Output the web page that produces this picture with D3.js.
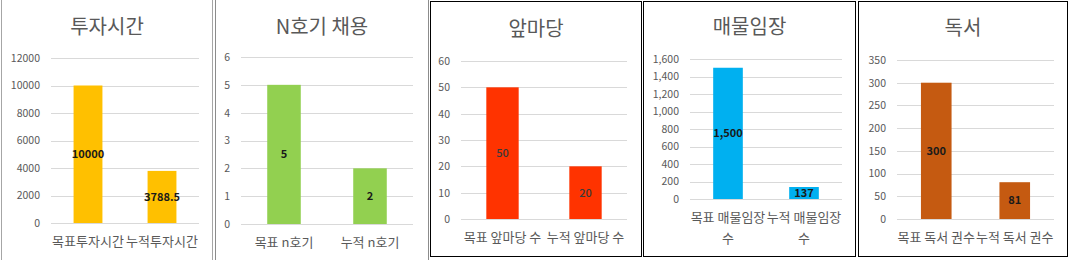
<!DOCTYPE html>
<html><head><meta charset="utf-8">
<script src="https://cdn.jsdelivr.net/npm/d3@7/dist/d3.min.js"></script>
<style>
html,body{margin:0;padding:0;background:#fff;}
svg{display:block;}
text{font-family:"Noto Sans CJK KR","Noto Sans",sans-serif;}
</style></head>
<body>
<svg id="c" width="1070" height="260"></svg>
<script>
// ---- data ----
const titles = ["투자시간", "N호기 채용", "앞마당", "매물임장", "독서"];
const categories1 = ["목표투자시간", "누적투자시간"];
const categories2 = ["목표 n호기", "누적 n호기"];
const categories3 = ["목표 앞마당 수", "누적 앞마당 수"];
const categories4 = ["목표 매물임장 수", "누적 매물임장 수"];
const categories5 = ["목표 독서 권수", "누적 독서 권수"];
const values1 = [10000, 3788.5];
const values2 = [5, 2];
const values3 = [50, 20];
const values4 = [1500, 137];
const values5 = [300, 81];
const ticks1 = [0, 2000, 4000, 6000, 8000, 10000, 12000];
const ticks2 = [0, 1, 2, 3, 4, 5, 6];
const ticks3 = [0, 10, 20, 30, 40, 50, 60];
const ticks4 = [0, 200, 400, 600, 800, 1000, 1200, 1400, 1600];
const ticks5 = [0, 50, 100, 150, 200, 250, 300, 350];

// ---- layout / style ----
const layout = [
  {px0:1, px1:213, border:"#a6a6a6", box:false, x0:51, x1:199, yTop:58, y0:223, color:"#FFC000", fmt:d3.format("d"), lfmt:v=>String(v), lcolor:"#1a1a1a", lweight:700, wrap:false, ty:34},
  {px0:215, px1:429, border:"#8c8c8c", box:false, x0:241, x1:413, yTop:57, y0:224, color:"#92D050", fmt:d3.format("d"), lfmt:v=>String(v), lcolor:"#1a1a1a", lweight:700, wrap:false, ty:34},
  {px0:430, px1:642, border:"#000", box:true, x0:461, x1:627, yTop:61, y0:219, color:"#FF3300", fmt:d3.format("d"), lfmt:v=>String(v), lcolor:"#3a3a3a", lweight:500, wrap:false, ty:36},
  {px0:643, px1:856, border:"#000", box:true, x0:690, x1:842, yTop:59, y0:199, color:"#00B0F0", fmt:d3.format(","), lfmt:d3.format(","), lcolor:"#1a1a1a", lweight:700, wrap:true, ty:34},
  {px0:858, px1:1068, border:"#000", box:true, x0:897, x1:1054, yTop:60, y0:219, color:"#C55A11", fmt:d3.format("d"), lfmt:v=>String(v), lcolor:"#1a1a1a", lweight:700, wrap:false, ty:35}
];
const cats = [categories1, categories2, categories3, categories4, categories5];
const vals = [values1, values2, values3, values4, values5];
const ticks = [ticks1, ticks2, ticks3, ticks4, ticks5];

const svg = d3.select("#c");

layout.forEach((L, i) => {
  const g = svg.append("g");
  // panel frame
  if (L.box) {
    g.append("rect").attr("x", L.px0 + 0.5).attr("y", 1.5)
      .attr("width", L.px1 - L.px0 - 1).attr("height", 255)
      .attr("fill", "#fff").attr("stroke", L.border).attr("stroke-width", 1);
  } else {
    g.append("rect").attr("x", L.px0).attr("y", 0).attr("width", L.px1 - L.px0).attr("height", 260).attr("fill", "#fff");
    g.append("line").attr("x1", L.px0 + 0.5).attr("x2", L.px0 + 0.5).attr("y1", 0).attr("y2", 260).attr("stroke", L.border);
    g.append("line").attr("x1", L.px1 - 0.5).attr("x2", L.px1 - 0.5).attr("y1", 0).attr("y2", 260).attr("stroke", L.border);
  }
  const maxT = d3.max(ticks[i]);
  const y = d3.scaleLinear().domain([0, maxT]).range([L.y0, L.yTop]);
  const x = d3.scaleBand().domain(cats[i]).range([L.x0, L.x1]).paddingInner(0.61).paddingOuter(0.305);

  // gridlines
  const grid = g.append("g").attr("transform", `translate(${L.x0},0)`)
    .call(d3.axisLeft(y).tickValues(ticks[i]).tickSize(-(L.x1 - L.x0)).tickFormat(""));
  grid.select(".domain").remove();
  grid.selectAll(".tick line").attr("stroke", "#d9d9d9").attr("shape-rendering", "crispEdges");

  // y axis labels
  const ax = g.append("g").attr("transform", `translate(${L.x0},0)`)
    .call(d3.axisLeft(y).tickValues(ticks[i]).tickSize(0).tickPadding(11).tickFormat(L.fmt));
  ax.select(".domain").remove();
  ax.selectAll(".tick text").attr("fill", "#595959").attr("font-size", "10.5px")
    .attr("font-family", '"Noto Sans CJK KR","Noto Sans",sans-serif');

  // bars
  g.selectAll("rect.bar").data(vals[i]).enter().append("rect").attr("class", "bar")
    .attr("x", (d, j) => x(cats[i][j])).attr("width", x.bandwidth())
    .attr("y", d => y(d)).attr("height", d => y(0) - y(d))
    .attr("fill", L.color);

  // data labels
  g.selectAll("text.dl").data(vals[i]).enter().append("text").attr("class", "dl")
    .attr("x", (d, j) => x(cats[i][j]) + x.bandwidth() / 2)
    .attr("y", d => y(d / 2)).attr("dy", "0.35em")
    .attr("text-anchor", "middle").attr("font-size", "11px")
    .attr("font-weight", L.lweight).attr("fill", L.lcolor)
    .text(d => L.lfmt(d));

  // category labels
  cats[i].forEach(c => {
    const cx = x(c) + x.bandwidth() / 2;
    const t = g.append("text").attr("x", cx).attr("text-anchor", "middle")
      .attr("font-size", "13px").attr("fill", "#595959");
    if (L.wrap) {
      const k = c.lastIndexOf(" ");
      t.append("tspan").attr("x", cx).attr("y", L.y0 + 18.5).attr("dy", "0.35em").text(c.slice(0, k));
      t.append("tspan").attr("x", cx).attr("y", L.y0 + 39.5).attr("dy", "0.35em").text(c.slice(k + 1));
    } else {
      t.attr("y", L.y0 + 18.5).attr("dy", "0.35em").text(c);
    }
  });

  // title
  g.append("text").attr("x", (L.px0 + L.px1) / 2).attr("y", L.ty)
    .attr("text-anchor", "middle").attr("font-size", "20px").attr("fill", "#595959")
    .text(titles[i]);
});
</script>
</body></html>
